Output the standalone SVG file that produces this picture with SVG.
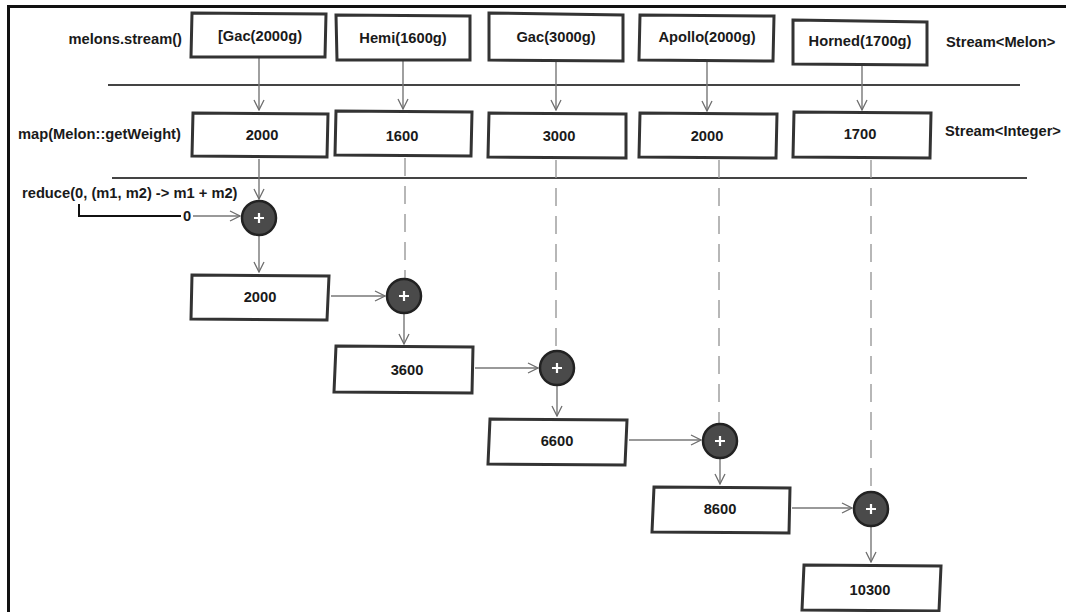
<svg xmlns="http://www.w3.org/2000/svg" width="1066" height="612" viewBox="0 0 1066 612">
<defs>
<marker id="arr" viewBox="0 0 12 12" refX="11" refY="6" markerWidth="12" markerHeight="12" markerUnits="userSpaceOnUse" orient="auto">
<path d="M1,1 L11,6 L1,11" fill="none" stroke="#6e6e6e" stroke-width="1.3"/>
</marker>
<style>
.box{fill:#fff;stroke:#333;stroke-width:3}
.t{font-family:"Liberation Sans",Arial,sans-serif;font-weight:bold;font-size:14.7px;fill:#1a1a1a}
.c{text-anchor:middle}
.a{stroke:#777;stroke-width:1.4;fill:none;marker-end:url(#arr)}
.d{stroke:#999;stroke-width:1.4;fill:none;stroke-dasharray:18 10}
.sep{stroke:#444;stroke-width:2.2}
.op{fill:#4a4a4a;stroke:#222;stroke-width:2.5}
.plus{stroke:#fff;stroke-width:2.2}
</style>
</defs>
<rect width="1066" height="612" fill="#fff"/>
<g id="frame">
<path d="M8.5,612 L8.5,6.5 L1066,6.5" fill="none" stroke="#111" stroke-width="3"/>
<line class="sep" x1="108" y1="85" x2="1020" y2="85"/>
<line class="sep" x1="112" y1="178" x2="1027" y2="178"/>
</g>
<g id="labels">
<text class="t" x="182" y="44" text-anchor="end">melons.stream()</text>
<text class="t" x="18" y="139">map(Melon::getWeight)</text>
<text class="t" x="22" y="198">reduce(0, (m1, m2) -&gt; m1 + m2)</text>
<text class="t" x="946" y="47">Stream&lt;Melon&gt;</text>
<text class="t" x="945" y="136">Stream&lt;Integer&gt;</text>
</g>
<g id="connectors">
<line class="a" x1="259" y1="58" x2="259" y2="110"/>
<line class="a" x1="403" y1="61" x2="403" y2="109"/>
<line class="a" x1="556" y1="62" x2="556" y2="110"/>
<line class="a" x1="707" y1="62" x2="707" y2="111"/>
<line class="a" x1="862" y1="66" x2="862" y2="110"/>
<line class="a" x1="259" y1="159" x2="259" y2="199"/>
<line class="d" x1="405" y1="158" x2="405" y2="278"/>
<line class="d" x1="556" y1="160" x2="556" y2="350"/>
<line class="d" x1="719" y1="160" x2="719" y2="423"/>
<line class="d" x1="871" y1="160" x2="871" y2="491"/>
<path d="M79,204 L79,216 L181,216" fill="none" stroke="#111" stroke-width="2"/>
<line class="a" x1="193" y1="216" x2="240" y2="216"/>
<line class="a" x1="259" y1="236" x2="259" y2="272"/>
<line class="a" x1="331" y1="296" x2="385" y2="296"/>
<line class="a" x1="404" y1="314" x2="404" y2="344"/>
<line class="a" x1="475" y1="368" x2="538" y2="368"/>
<line class="a" x1="557" y1="386" x2="557" y2="416"/>
<line class="a" x1="629" y1="440" x2="701" y2="440"/>
<line class="a" x1="720" y1="459" x2="720" y2="484"/>
<line class="a" x1="792" y1="508" x2="852" y2="508"/>
<line class="a" x1="871" y1="527" x2="871" y2="562"/>
<text class="t" x="183" y="221" font-size="13">0</text>
</g>
<g id="n-gac2000"><polygon class="box" points="192,13 326,14 325,57 191,57"/><text class="t c" x="260" y="41">[Gac(2000g)</text></g>
<g id="n-hemi"><polygon class="box" points="336,15 470,16 470,60 337,60"/><text class="t c" x="403" y="43">Hemi(1600g)</text></g>
<g id="n-gac3000"><polygon class="box" points="489,13 623,15 623,61 489,60"/><text class="t c" x="556" y="42">Gac(3000g)</text></g>
<g id="n-apollo"><polygon class="box" points="640,15 774,16 773,61 639,60"/><text class="t c" x="707" y="42">Apollo(2000g)</text></g>
<g id="n-horned"><polygon class="box" points="793,20 927,22 927,65 793,64"/><text class="t c" x="860" y="46">Horned(1700g)</text></g>
<g id="n-w2000"><polygon class="box" points="193,113 328,114 327,157 192,156"/><text class="t c" x="262" y="140">2000</text></g>
<g id="n-w1600"><polygon class="box" points="336,111 472,112 471,156 335,155"/><text class="t c" x="402" y="141">1600</text></g>
<g id="n-w3000"><polygon class="box" points="489,113 626,114 626,158 488,157"/><text class="t c" x="559" y="141">3000</text></g>
<g id="n-w2000b"><polygon class="box" points="640,113 777,114 776,158 639,157"/><text class="t c" x="707" y="141">2000</text></g>
<g id="n-w1700"><polygon class="box" points="794,112 931,113 930,158 793,157"/><text class="t c" x="860" y="139">1700</text></g>
<g id="op1"><circle class="op" cx="259" cy="218" r="17"/><path class="plus" d="M254,218 h10 M259,213 v10"/></g>
<g id="op2"><circle class="op" cx="404" cy="296" r="17"/><path class="plus" d="M399,296 h10 M404,291 v10"/></g>
<g id="op3"><circle class="op" cx="557" cy="368" r="17"/><path class="plus" d="M552,368 h10 M557,363 v10"/></g>
<g id="op4"><circle class="op" cx="720" cy="441" r="17"/><path class="plus" d="M715,441 h10 M720,436 v10"/></g>
<g id="op5"><circle class="op" cx="871" cy="509" r="17"/><path class="plus" d="M866,509 h10 M871,504 v10"/></g>
<g id="r2000"><polygon class="box" points="192,275 329,276 327,320 191,319"/><text class="t c" x="260" y="302">2000</text></g>
<g id="r3600"><polygon class="box" points="336,346 473,347 472,393 334,392"/><text class="t c" x="407" y="375">3600</text></g>
<g id="r6600"><polygon class="box" points="490,419 627,420 625,465 488,464"/><text class="t c" x="557" y="446">6600</text></g>
<g id="r8600"><polygon class="box" points="654,487 790,488 789,533 652,532"/><text class="t c" x="720" y="514">8600</text></g>
<g id="r10300"><polygon class="box" points="804,565 941,566 939,611 802,610"/><text class="t c" x="870" y="595">10300</text></g>
</svg>
